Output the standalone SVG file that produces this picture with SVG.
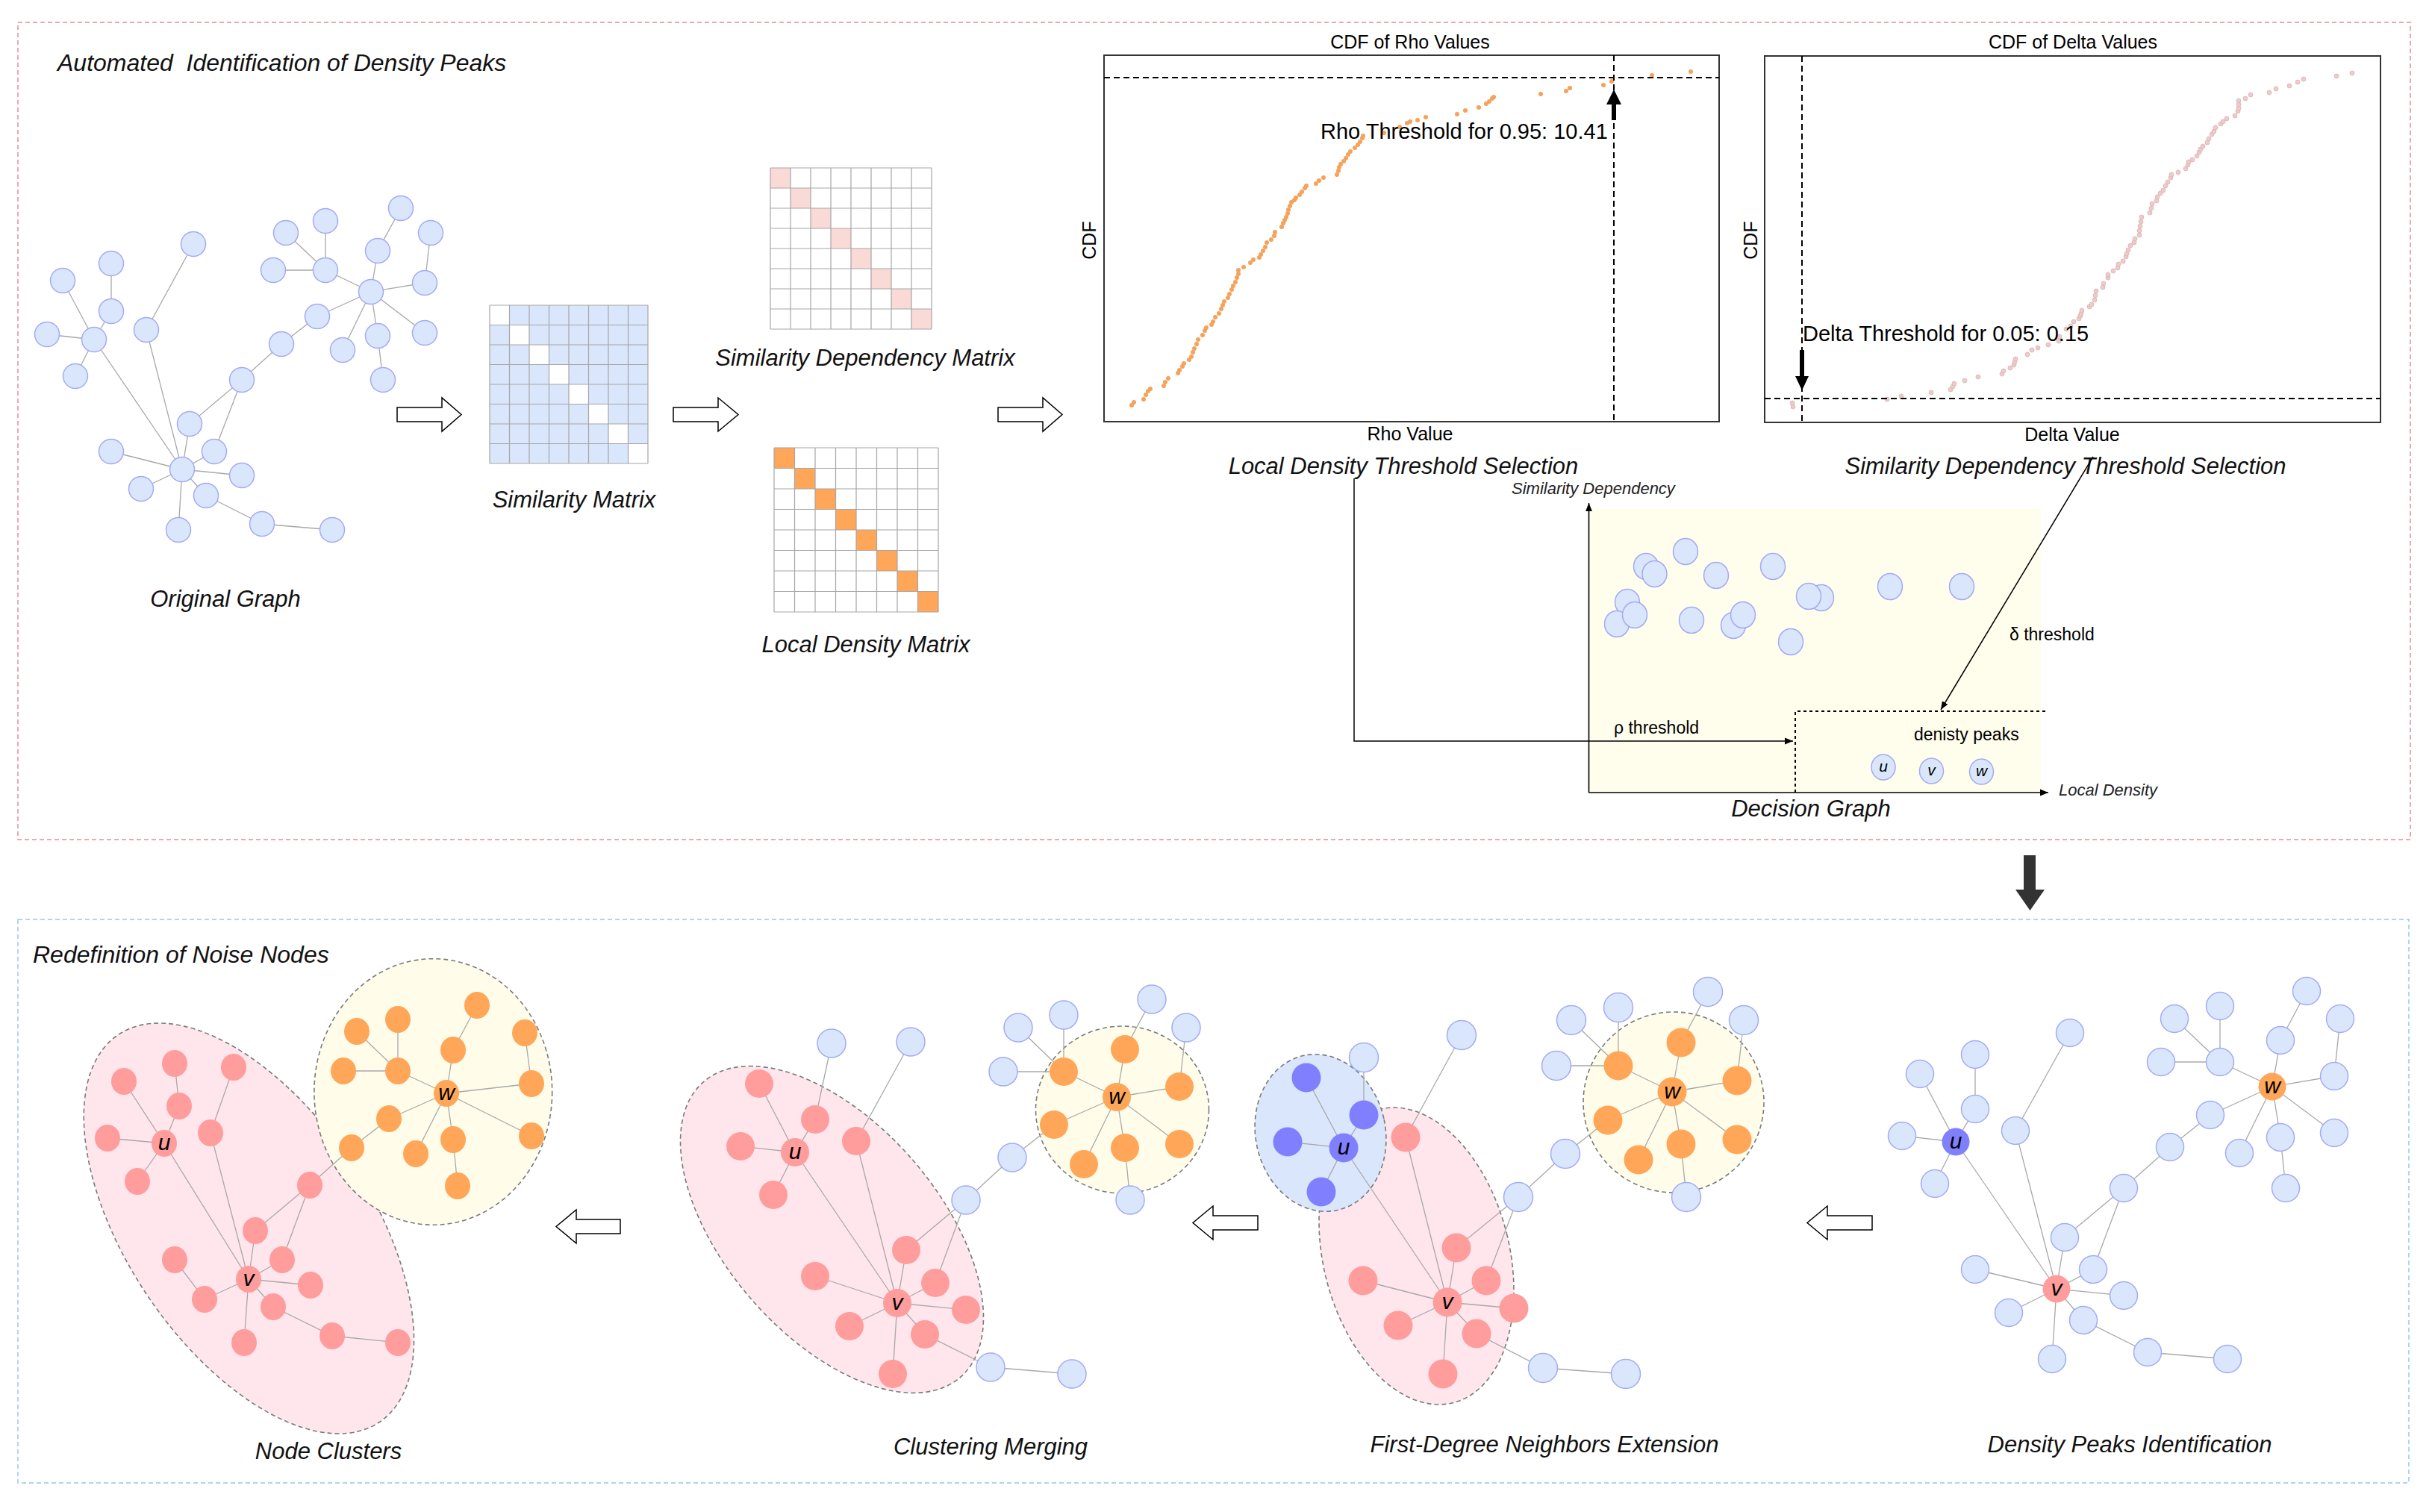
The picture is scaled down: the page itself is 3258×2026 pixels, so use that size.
<svg xmlns="http://www.w3.org/2000/svg" width="3258" height="2026" viewBox="0 0 3258 2026">
<defs>
<style>
text{font-family:'Liberation Sans',Arial,Helvetica,sans-serif;fill:#111}
.cap{font-style:italic;font-size:31px;text-anchor:middle}
.ttl{font-style:italic;font-size:32px}
.ch{font-size:25px;fill:#000}
.ann{font-size:29px;fill:#000}
.dg{font-size:23px;fill:#000}
.dgi{font-style:italic;font-size:22px;fill:#222}
.hl{font-style:italic;font-size:30px;text-anchor:middle;fill:#000}
.hs{font-style:italic;font-size:21px;text-anchor:middle;fill:#000}
.e line{stroke:#A8A8A8;stroke-width:1.3}
.nb{fill:#DAE6FC;stroke:#A3ABF4;stroke-width:1.5}
.nd{fill:#8080FF}
.np{fill:#FF9C9C}
.no{fill:#FFA658}
.hull{stroke:#7A7A7A;stroke-width:1.6;stroke-dasharray:6 4}
.grid{stroke:#A6A6A6;stroke-width:1.2;fill:none}
.harrow{fill:#fff;stroke:#000;stroke-width:1.5}
.dash{stroke:#000;stroke-width:2;stroke-dasharray:8 5;fill:none}
.rd{fill:#F5A25A}
.dd{fill:#EBCBCB;stroke:#DDB3B3;stroke-width:0.8}
</style>
<marker id="ah" viewBox="0 0 10 10" refX="10" refY="5" markerWidth="11" markerHeight="11" markerUnits="userSpaceOnUse" orient="auto"><path d="M0,1 L10,5 L0,9 z" fill="#000"/></marker>
</defs>
<rect width="3258" height="2026" fill="#fff"/>

<!-- section frames -->
<rect x="24" y="30" width="3205" height="1095" fill="none" stroke="#E88A9A" stroke-width="1.5" stroke-dasharray="6 4"/>
<rect x="24" y="1232" width="3203" height="755" fill="none" stroke="#9CC3F0" stroke-width="1.5" stroke-dasharray="6 4"/>
<text class="ttl" x="77" y="95" xml:space="preserve">Automated  Identification of Density Peaks</text>
<text class="ttl" x="44" y="1290">Redefinition of Noise Nodes</text>

<!-- ===== connectors ===== -->
<g id="connectors">
<g id="edges-original" class="e">
<line x1="259" y1="327" x2="196" y2="442"/><line x1="149" y1="353" x2="149" y2="417"/><line x1="84" y1="376" x2="126" y2="455"/><line x1="149" y1="417" x2="126" y2="455"/><line x1="63" y1="448" x2="126" y2="455"/><line x1="101" y1="504" x2="126" y2="455"/><line x1="126" y1="455" x2="244" y2="629"/><line x1="196" y1="442" x2="244" y2="629"/><line x1="383" y1="312" x2="436" y2="362"/><line x1="436" y1="296" x2="436" y2="362"/><line x1="366" y1="362" x2="436" y2="362"/><line x1="537" y1="279" x2="506" y2="336"/><line x1="506" y1="336" x2="497" y2="391"/><line x1="436" y1="362" x2="497" y2="391"/><line x1="497" y1="391" x2="569" y2="379"/><line x1="569" y1="379" x2="577" y2="312"/><line x1="497" y1="391" x2="569" y2="446"/><line x1="497" y1="391" x2="506" y2="450"/><line x1="506" y1="450" x2="513" y2="509"/><line x1="497" y1="391" x2="459" y2="469"/><line x1="497" y1="391" x2="425" y2="424"/><line x1="425" y1="424" x2="377" y2="461"/><line x1="377" y1="461" x2="324" y2="509"/><line x1="324" y1="509" x2="254" y2="568"/><line x1="324" y1="509" x2="287" y2="605"/><line x1="254" y1="568" x2="244" y2="629"/><line x1="287" y1="605" x2="244" y2="629"/><line x1="149" y1="605" x2="244" y2="629"/><line x1="324" y1="637" x2="244" y2="629"/><line x1="189" y1="655" x2="244" y2="629"/><line x1="276" y1="664" x2="244" y2="629"/><line x1="239" y1="710" x2="244" y2="629"/><line x1="276" y1="664" x2="351" y2="702"/><line x1="351" y1="702" x2="445" y2="710"/>
</g>
<g id="flow-arrows">
<path class="harrow" d="M532,546 H592 V533 L618,555.5 L592,578 V565 H532 Z"/>
<path class="harrow" d="M902,546 H962 V533 L989,555.5 L962,578 V565 H902 Z"/>
<path class="harrow" d="M1337,546 H1397 V533 L1423,555.5 L1397,578 V565 H1337 Z"/>
<path d="M2711,1146 H2727 V1192 H2739 L2719.5,1220 L2700,1192 H2711 Z" fill="#333"/>
<path class="harrow" d="M2508,1629 H2448 V1616 L2421,1638.5 L2448,1661 V1648 H2508 Z"/>
<path class="harrow" d="M1685,1629 H1625 V1616 L1598,1638.5 L1625,1661 V1648 H1685 Z"/>
<path class="harrow" d="M831,1634 H772 V1621 L745,1643.5 L772,1666 V1653 H831 Z"/>
</g>
<g id="edges-dp" class="e">
<line x1="2773" y1="1384" x2="2700" y2="1515"/><line x1="2646" y1="1413" x2="2646" y2="1486"/><line x1="2572" y1="1439" x2="2620" y2="1530"/><line x1="2646" y1="1486" x2="2620" y2="1530"/><line x1="2548" y1="1522" x2="2620" y2="1530"/><line x1="2592" y1="1586" x2="2620" y2="1530"/><line x1="2620" y1="1530" x2="2755" y2="1727"/><line x1="2700" y1="1515" x2="2755" y2="1727"/><line x1="2913" y1="1365" x2="2974" y2="1423"/><line x1="2974" y1="1348" x2="2974" y2="1423"/><line x1="2895" y1="1423" x2="2974" y2="1423"/><line x1="3090" y1="1328" x2="3055" y2="1394"/><line x1="3055" y1="1394" x2="3044" y2="1456"/><line x1="2974" y1="1423" x2="3044" y2="1456"/><line x1="3044" y1="1456" x2="3127" y2="1442"/><line x1="3127" y1="1442" x2="3135" y2="1365"/><line x1="3044" y1="1456" x2="3127" y2="1518"/><line x1="3044" y1="1456" x2="3055" y2="1524"/><line x1="3055" y1="1524" x2="3062" y2="1592"/><line x1="3044" y1="1456" x2="3000" y2="1545"/><line x1="3044" y1="1456" x2="2961" y2="1494"/><line x1="2961" y1="1494" x2="2907" y2="1537"/><line x1="2907" y1="1537" x2="2845" y2="1592"/><line x1="2845" y1="1592" x2="2766" y2="1658"/><line x1="2845" y1="1592" x2="2804" y2="1701"/><line x1="2766" y1="1658" x2="2755" y2="1727"/><line x1="2804" y1="1701" x2="2755" y2="1727"/><line x1="2646" y1="1701" x2="2755" y2="1727"/><line x1="2845" y1="1736" x2="2755" y2="1727"/><line x1="2691" y1="1759" x2="2755" y2="1727"/><line x1="2791" y1="1769" x2="2755" y2="1727"/><line x1="2749" y1="1821" x2="2755" y2="1727"/><line x1="2791" y1="1769" x2="2877" y2="1812"/><line x1="2877" y1="1812" x2="2984" y2="1821"/>
</g>
</g>

<!-- ===== Original graph nodes ===== -->
<g id="original-graph" class="nb">
<circle id="o-a1" cx="259" cy="327" r="16.5"/><circle id="o-a2" cx="149" cy="353" r="16.5"/><circle id="o-a3" cx="84" cy="376" r="16.5"/><circle id="o-a4" cx="149" cy="417" r="16.5"/><circle id="o-a5" cx="196" cy="442" r="16.5"/><circle id="o-a6" cx="63" cy="448" r="16.5"/><circle id="o-u" cx="126" cy="455" r="16.5"/><circle id="o-a8" cx="101" cy="504" r="16.5"/>
<circle id="o-b9" cx="383" cy="312" r="16.5"/><circle id="o-b10" cx="436" cy="296" r="16.5"/><circle id="o-b11" cx="537" cy="279" r="16.5"/><circle id="o-b12" cx="577" cy="312" r="16.5"/><circle id="o-b13" cx="506" cy="336" r="16.5"/><circle id="o-b14" cx="366" cy="362" r="16.5"/><circle id="o-b15" cx="436" cy="362" r="16.5"/><circle id="o-w" cx="497" cy="391" r="16.5"/><circle id="o-b17" cx="569" cy="379" r="16.5"/><circle id="o-b18" cx="425" cy="424" r="16.5"/><circle id="o-b19" cx="569" cy="446" r="16.5"/><circle id="o-b20" cx="459" cy="469" r="16.5"/><circle id="o-b21" cx="506" cy="450" r="16.5"/><circle id="o-b22" cx="513" cy="509" r="16.5"/><circle id="o-b23" cx="377" cy="461" r="16.5"/><circle id="o-b24" cx="324" cy="509" r="16.5"/><circle id="o-b25" cx="254" cy="568" r="16.5"/><circle id="o-b26" cx="287" cy="605" r="16.5"/><circle id="o-b27" cx="149" cy="605" r="16.5"/><circle id="o-v" cx="244" cy="629" r="16.5"/><circle id="o-b29" cx="324" cy="637" r="16.5"/><circle id="o-b30" cx="189" cy="655" r="16.5"/><circle id="o-b31" cx="276" cy="664" r="16.5"/><circle id="o-b32" cx="239" cy="710" r="16.5"/><circle id="o-b33" cx="351" cy="702" r="16.5"/><circle id="o-b34" cx="445" cy="710" r="16.5"/>
</g>
<text class="cap" x="302" y="813">Original Graph</text>

<!-- ===== Matrices ===== -->
<g id="similarity-matrix">
<rect x="656" y="409" width="212" height="212" fill="#DAE6FC"/>
<g fill="#fff"><rect x="656" y="409" width="26.5" height="26.5"/><rect x="682.5" y="435.5" width="26.5" height="26.5"/><rect x="709" y="462" width="26.5" height="26.5"/><rect x="735.5" y="488.5" width="26.5" height="26.5"/><rect x="762" y="515" width="26.5" height="26.5"/><rect x="788.5" y="541.5" width="26.5" height="26.5"/><rect x="815" y="568" width="26.5" height="26.5"/><rect x="841.5" y="594.5" width="26.5" height="26.5"/></g>
<path class="grid" d="M656,409V621M682.5,409V621M709,409V621M735.5,409V621M762,409V621M788.5,409V621M815,409V621M841.5,409V621M868,409V621M656,409H868M656,435.5H868M656,462H868M656,488.5H868M656,515H868M656,541.5H868M656,568H868M656,594.5H868M656,621H868"/>
<text class="cap" x="769" y="680">Similarity Matrix</text>
</g>
<g id="similarity-dependency-matrix">
<rect x="1032" y="225" width="216" height="216" fill="#fff"/>
<g fill="#FADAD7"><rect x="1032" y="225" width="27" height="27"/><rect x="1059" y="252" width="27" height="27"/><rect x="1086" y="279" width="27" height="27"/><rect x="1113" y="306" width="27" height="27"/><rect x="1140" y="333" width="27" height="27"/><rect x="1167" y="360" width="27" height="27"/><rect x="1194" y="387" width="27" height="27"/><rect x="1221" y="414" width="27" height="27"/></g>
<path class="grid" d="M1032,225V441M1059,225V441M1086,225V441M1113,225V441M1140,225V441M1167,225V441M1194,225V441M1221,225V441M1248,225V441M1032,225H1248M1032,252H1248M1032,279H1248M1032,306H1248M1032,333H1248M1032,360H1248M1032,387H1248M1032,414H1248M1032,441H1248"/>
<text class="cap" x="1159" y="490">Similarity Dependency Matrix</text>
</g>
<g id="local-density-matrix">
<rect x="1037" y="600" width="220" height="220" fill="#fff"/>
<g fill="#FFA658"><rect x="1037" y="600" width="27.5" height="27.5"/><rect x="1064.5" y="627.5" width="27.5" height="27.5"/><rect x="1092" y="655" width="27.5" height="27.5"/><rect x="1119.5" y="682.5" width="27.5" height="27.5"/><rect x="1147" y="710" width="27.5" height="27.5"/><rect x="1174.5" y="737.5" width="27.5" height="27.5"/><rect x="1202" y="765" width="27.5" height="27.5"/><rect x="1229.5" y="792.5" width="27.5" height="27.5"/></g>
<path class="grid" d="M1037,600V820M1064.5,600V820M1092,600V820M1119.5,600V820M1147,600V820M1174.5,600V820M1202,600V820M1229.5,600V820M1257,600V820M1037,600H1257M1037,627.5H1257M1037,655H1257M1037,682.5H1257M1037,710H1257M1037,737.5H1257M1037,765H1257M1037,792.5H1257M1037,820H1257"/>
<text class="cap" x="1160" y="874">Local Density Matrix</text>
</g>

<!-- ===== CDF of Rho ===== -->
<g id="cdf-rho">
<text class="ch" x="1889" y="65" text-anchor="middle">CDF of Rho Values</text>
<rect x="1479" y="74" width="824" height="491" fill="#fff" stroke="#333" stroke-width="2"/>
<text class="ch" transform="translate(1468,322) rotate(-90)" text-anchor="middle">CDF</text>
<text class="ch" x="1889" y="590" text-anchor="middle">Rho Value</text>
<g class="rd">
<circle cx="1516" cy="543" r="3"/><circle cx="1519" cy="539" r="3"/><circle cx="1532" cy="535" r="3"/><circle cx="1535" cy="529" r="3"/><circle cx="1538" cy="524" r="3"/><circle cx="1541" cy="521" r="3"/><circle cx="1559" cy="517" r="3"/><circle cx="1561" cy="512" r="3"/><circle cx="1565" cy="507" r="3"/><circle cx="1578" cy="500" r="3"/><circle cx="1580" cy="496" r="3"/><circle cx="1584" cy="491" r="3"/><circle cx="1586" cy="487" r="3"/><circle cx="1593" cy="482" r="3"/><circle cx="1596" cy="478" r="3"/><circle cx="1598" cy="472" r="3"/><circle cx="1600" cy="467" r="3"/><circle cx="1603" cy="461" r="3"/><circle cx="1605" cy="455" r="3"/><circle cx="1611" cy="449" r="3"/><circle cx="1614" cy="443" r="3"/><circle cx="1616" cy="439" r="3"/><circle cx="1623" cy="435" r="3"/><circle cx="1625" cy="431" r="3"/><circle cx="1628" cy="425" r="3"/><circle cx="1633" cy="420" r="3"/><circle cx="1636" cy="414" r="3"/><circle cx="1638" cy="409" r="3"/><circle cx="1640" cy="404" r="3"/><circle cx="1645" cy="399" r="3"/><circle cx="1647" cy="394" r="3"/><circle cx="1650" cy="388" r="3"/><circle cx="1652" cy="383" r="3"/><circle cx="1655" cy="378" r="3"/><circle cx="1657" cy="372" r="3"/><circle cx="1659" cy="367" r="3"/><circle cx="1659" cy="362" r="3"/><circle cx="1666" cy="358" r="3"/><circle cx="1675" cy="352" r="3"/><circle cx="1679" cy="348" r="3"/><circle cx="1687" cy="345" r="3"/><circle cx="1689" cy="341" r="3"/><circle cx="1692" cy="336" r="3"/><circle cx="1695" cy="331" r="3"/><circle cx="1697" cy="325" r="3"/><circle cx="1703" cy="321" r="3"/><circle cx="1707" cy="316" r="3"/><circle cx="1708" cy="311" r="3"/><circle cx="1717" cy="304" r="3"/><circle cx="1719" cy="299" r="3"/><circle cx="1721" cy="295" r="3"/><circle cx="1723" cy="291" r="3"/><circle cx="1725" cy="286" r="3"/><circle cx="1726" cy="281" r="3"/><circle cx="1728" cy="276" r="3"/><circle cx="1730" cy="271" r="3"/><circle cx="1734" cy="268" r="3"/><circle cx="1736" cy="265" r="3"/><circle cx="1741" cy="261" r="3"/><circle cx="1744" cy="257" r="3"/><circle cx="1748" cy="252" r="3"/><circle cx="1750" cy="249" r="3"/><circle cx="1763" cy="246" r="3"/><circle cx="1767" cy="242" r="3"/><circle cx="1773" cy="238" r="3"/><circle cx="1791" cy="234" r="3"/><circle cx="1793" cy="229" r="3"/><circle cx="1794" cy="224" r="3"/><circle cx="1796" cy="220" r="3"/><circle cx="1800" cy="216" r="3"/><circle cx="1803" cy="212" r="3"/><circle cx="1806" cy="207" r="3"/><circle cx="1809" cy="203" r="3"/><circle cx="1815" cy="198" r="3"/><circle cx="1819" cy="194" r="3"/><circle cx="1822" cy="190" r="3"/><circle cx="1825" cy="185" r="3"/><circle cx="1826" cy="182" r="3"/><circle cx="1854" cy="178" r="3"/><circle cx="1875" cy="170" r="3"/><circle cx="1885" cy="165" r="3"/><circle cx="1889" cy="163" r="3"/><circle cx="1899" cy="161" r="3"/><circle cx="1910" cy="157" r="3"/><circle cx="1952" cy="153" r="3"/><circle cx="1963" cy="148" r="3"/><circle cx="1981" cy="144" r="3"/><circle cx="1991" cy="139" r="3"/><circle cx="1995" cy="136" r="3"/><circle cx="1999" cy="132" r="3"/><circle cx="2001" cy="130" r="3"/><circle cx="2064" cy="126" r="3"/><circle cx="2098" cy="122" r="3"/><circle cx="2103" cy="118" r="3"/><circle cx="2148" cy="114" r="3"/><circle cx="2159" cy="109" r="3"/><circle cx="2213" cy="101" r="3"/><circle cx="2265" cy="96" r="3"/>
</g>
<line class="dash" x1="1479" y1="104" x2="2303" y2="104"/>
<line class="dash" x1="2162" y1="74" x2="2162" y2="565"/>
<rect x="2159" y="137" width="6" height="24" fill="#000"/>
<polygon points="2152,140 2172,140 2162,120" fill="#000"/>
<text class="ann" x="1769" y="186">Rho Threshold for 0.95: 10.41</text>
<text class="cap" x="1880" y="635">Local Density Threshold Selection</text>
</g>

<!-- ===== CDF of Delta ===== -->
<g id="cdf-delta">
<text class="ch" x="2777" y="65" text-anchor="middle">CDF of Delta Values</text>
<rect x="2364" y="75" width="825" height="491" fill="#fff" stroke="#333" stroke-width="2"/>
<text class="ch" transform="translate(2354,322) rotate(-90)" text-anchor="middle">CDF</text>
<text class="ch" x="2776" y="591" text-anchor="middle">Delta Value</text>
<g class="dd">
<circle cx="2401" cy="540" r="3"/><circle cx="2402" cy="545" r="3"/><circle cx="2528" cy="535" r="3"/><circle cx="2547" cy="531" r="3"/><circle cx="2587" cy="526" r="3"/><circle cx="2613" cy="522" r="3"/><circle cx="2616" cy="518" r="3"/><circle cx="2618" cy="514" r="3"/><circle cx="2632" cy="510" r="3"/><circle cx="2650" cy="505" r="3"/><circle cx="2682" cy="501" r="3"/><circle cx="2684" cy="497" r="3"/><circle cx="2693" cy="493" r="3"/><circle cx="2698" cy="489" r="3"/><circle cx="2699" cy="485" r="3"/><circle cx="2700" cy="481" r="3"/><circle cx="2716" cy="475" r="3"/><circle cx="2722" cy="469" r="3"/><circle cx="2730" cy="466" r="3"/><circle cx="2744" cy="462" r="3"/><circle cx="2758" cy="457" r="3"/><circle cx="2759" cy="451" r="3"/><circle cx="2768" cy="441" r="3"/><circle cx="2774" cy="437" r="3"/><circle cx="2778" cy="431" r="3"/><circle cx="2785" cy="427" r="3"/><circle cx="2787" cy="423" r="3"/><circle cx="2788" cy="420" r="3"/><circle cx="2789" cy="416" r="3"/><circle cx="2799" cy="411" r="3"/><circle cx="2802" cy="408" r="3"/><circle cx="2806" cy="402" r="3"/><circle cx="2807" cy="396" r="3"/><circle cx="2808" cy="390" r="3"/><circle cx="2817" cy="385" r="3"/><circle cx="2818" cy="380" r="3"/><circle cx="2824" cy="372" r="3"/><circle cx="2824" cy="368" r="3"/><circle cx="2831" cy="363" r="3"/><circle cx="2837" cy="359" r="3"/><circle cx="2838" cy="354" r="3"/><circle cx="2844" cy="350" r="3"/><circle cx="2848" cy="344" r="3"/><circle cx="2849" cy="340" r="3"/><circle cx="2851" cy="335" r="3"/><circle cx="2854" cy="329" r="3"/><circle cx="2859" cy="325" r="3"/><circle cx="2860" cy="320" r="3"/><circle cx="2866" cy="315" r="3"/><circle cx="2866" cy="309" r="3"/><circle cx="2867" cy="303" r="3"/><circle cx="2868" cy="297" r="3"/><circle cx="2869" cy="291" r="3"/><circle cx="2880" cy="285" r="3"/><circle cx="2882" cy="279" r="3"/><circle cx="2883" cy="273" r="3"/><circle cx="2889" cy="269" r="3"/><circle cx="2890" cy="264" r="3"/><circle cx="2894" cy="259" r="3"/><circle cx="2898" cy="255" r="3"/><circle cx="2901" cy="249" r="3"/><circle cx="2904" cy="244" r="3"/><circle cx="2908" cy="238" r="3"/><circle cx="2909" cy="234" r="3"/><circle cx="2918" cy="231" r="3"/><circle cx="2928" cy="226" r="3"/><circle cx="2931" cy="221" r="3"/><circle cx="2932" cy="217" r="3"/><circle cx="2937" cy="214" r="3"/><circle cx="2943" cy="209" r="3"/><circle cx="2946" cy="204" r="3"/><circle cx="2948" cy="200" r="3"/><circle cx="2951" cy="196" r="3"/><circle cx="2957" cy="191" r="3"/><circle cx="2959" cy="186" r="3"/><circle cx="2963" cy="180" r="3"/><circle cx="2966" cy="176" r="3"/><circle cx="2968" cy="171" r="3"/><circle cx="2975" cy="166" r="3"/><circle cx="2978" cy="163" r="3"/><circle cx="2983" cy="159" r="3"/><circle cx="2994" cy="155" r="3"/><circle cx="2998" cy="149" r="3"/><circle cx="2999" cy="145" r="3"/><circle cx="2999" cy="140" r="3"/><circle cx="2999" cy="135" r="3"/><circle cx="3008" cy="132" r="3"/><circle cx="3015" cy="127" r="3"/><circle cx="3040" cy="124" r="3"/><circle cx="3049" cy="119" r="3"/><circle cx="3067" cy="115" r="3"/><circle cx="3078" cy="110" r="3"/><circle cx="3086" cy="106" r="3"/><circle cx="3130" cy="102" r="3"/><circle cx="3151" cy="98" r="3"/>
</g>
<line class="dash" x1="2364" y1="534" x2="3189" y2="534"/>
<line class="dash" x1="2414" y1="75" x2="2414" y2="566"/>
<rect x="2411" y="469" width="6" height="37" fill="#000"/>
<polygon points="2405,504 2423,504 2414,523" fill="#000"/>
<text class="ann" x="2415" y="457">Delta Threshold for 0.05: 0.15</text>
<text class="cap" x="2767" y="635">Similarity Dependency Threshold Selection</text>
</g>

<!-- ===== Decision graph ===== -->
<g id="decision-graph">
<rect x="2129" y="682" width="605" height="380" fill="#FFFDEC"/>
<line x1="2128.5" y1="1062" x2="2128.5" y2="674" stroke="#000" stroke-width="1.6" marker-end="url(#ah)"/>
<line x1="2128.5" y1="1062" x2="2744" y2="1062" stroke="#000" stroke-width="1.6" marker-end="url(#ah)"/>
<path d="M2405,1062 V953 H2740" fill="none" stroke="#000" stroke-width="2" stroke-dasharray="4 4"/>
<text class="dgi" x="2025" y="662">Similarity Dependency</text>
<text class="dgi" x="2758" y="1066">Local Density</text>
<text class="dg" x="2692" y="858">δ threshold</text>
<text class="dg" x="2162" y="983">ρ threshold</text>
<text class="dg" x="2564" y="992">denisty peaks</text>
<g class="nb">
<ellipse cx="2205" cy="759" rx="16.5" ry="17.5"/><ellipse cx="2216.5" cy="769" rx="16.5" ry="17.5"/><ellipse cx="2258" cy="739" rx="16.5" ry="17.5"/><ellipse cx="2299" cy="771" rx="16.5" ry="17.5"/><ellipse cx="2375" cy="759" rx="16.5" ry="17.5"/><ellipse cx="2180" cy="807" rx="16.5" ry="17.5"/><ellipse cx="2166" cy="836" rx="16.5" ry="17.5"/><ellipse cx="2190" cy="824" rx="16.5" ry="17.5"/><ellipse cx="2266" cy="831" rx="16.5" ry="17.5"/><ellipse cx="2322" cy="838" rx="16.5" ry="17.5"/><ellipse cx="2335" cy="824" rx="16.5" ry="17.5"/><ellipse cx="2440" cy="801" rx="16.5" ry="17.5"/><ellipse cx="2423" cy="799" rx="16.5" ry="17.5"/><ellipse cx="2532" cy="786" rx="16.5" ry="17.5"/><ellipse cx="2628" cy="786" rx="16.5" ry="17.5"/><ellipse cx="2399" cy="860" rx="16.5" ry="17.5"/>
</g>
<g id="dg-u"><ellipse class="nb" cx="2523" cy="1028" rx="16" ry="17"/><text class="hs" x="2523" y="1034">u</text></g>
<g id="dg-v"><ellipse class="nb" cx="2587.5" cy="1033" rx="16" ry="17"/><text class="hs" x="2587.5" y="1039">v</text></g>
<g id="dg-w"><ellipse class="nb" cx="2654.5" cy="1034" rx="16" ry="17"/><text class="hs" x="2654.5" y="1040">w</text></g>
<text class="cap" x="2426" y="1094">Decision Graph</text>
</g>
<g id="threshold-links" fill="none" stroke="#000" stroke-width="1.5">
<polyline points="1814,641 1814,993 2402,993" marker-end="url(#ah)"/>
<line x1="2804" y1="612" x2="2600" y2="951" marker-end="url(#ah)"/>
</g>

<!-- ===== Density Peaks Identification ===== -->
<g id="density-peaks-identification">
<g class="nb">
<circle id="dp-a1" cx="2773" cy="1384" r="18.5"/><circle id="dp-a2" cx="2646" cy="1413" r="18.5"/><circle id="dp-a3" cx="2572" cy="1439" r="18.5"/><circle id="dp-a4" cx="2646" cy="1486" r="18.5"/><circle id="dp-a5" cx="2700" cy="1515" r="18.5"/><circle id="dp-a6" cx="2548" cy="1522" r="18.5"/><circle id="dp-a8" cx="2592" cy="1586" r="18.5"/>
<circle id="dp-b9" cx="2913" cy="1365" r="18.5"/><circle id="dp-b10" cx="2974" cy="1348" r="18.5"/><circle id="dp-b11" cx="3090" cy="1328" r="18.5"/><circle id="dp-b12" cx="3135" cy="1365" r="18.5"/><circle id="dp-b13" cx="3055" cy="1394" r="18.5"/><circle id="dp-b14" cx="2895" cy="1423" r="18.5"/><circle id="dp-b15" cx="2974" cy="1423" r="18.5"/><circle id="dp-b17" cx="3127" cy="1442" r="18.5"/><circle id="dp-b18" cx="2961" cy="1494" r="18.5"/><circle id="dp-b19" cx="3127" cy="1518" r="18.5"/><circle id="dp-b20" cx="3000" cy="1545" r="18.5"/><circle id="dp-b21" cx="3055" cy="1524" r="18.5"/><circle id="dp-b22" cx="3062" cy="1592" r="18.5"/><circle id="dp-b23" cx="2907" cy="1537" r="18.5"/><circle id="dp-b24" cx="2845" cy="1592" r="18.5"/><circle id="dp-b25" cx="2766" cy="1658" r="18.5"/><circle id="dp-b26" cx="2804" cy="1701" r="18.5"/><circle id="dp-b27" cx="2646" cy="1701" r="18.5"/><circle id="dp-b29" cx="2845" cy="1736" r="18.5"/><circle id="dp-b30" cx="2691" cy="1759" r="18.5"/><circle id="dp-b31" cx="2791" cy="1769" r="18.5"/><circle id="dp-b32" cx="2749" cy="1821" r="18.5"/><circle id="dp-b33" cx="2877" cy="1812" r="18.5"/><circle id="dp-b34" cx="2984" cy="1821" r="18.5"/>
</g>
<g id="dp-u"><circle class="nd" cx="2620" cy="1530" r="18.5"/><text class="hl" x="2620" y="1539">u</text></g>
<g id="dp-w"><circle class="no" cx="3044" cy="1456" r="18.5"/><text class="hl" x="3044" y="1465">w</text></g>
<g id="dp-v"><circle class="np" cx="2755" cy="1727" r="18.5"/><text class="hl" x="2755" y="1736">v</text></g>
<text class="cap" x="2853" y="1946">Density Peaks Identification</text>
</g>

<!-- ===== First-Degree Neighbors Extension ===== -->
<g id="first-degree-neighbors-extension">
<ellipse class="hull" cx="1897.5" cy="1683" rx="124.6" ry="202.7" transform="rotate(-14 1897.5 1683)" fill="#FFE6EC"/>
<ellipse class="hull" cx="1769" cy="1518" rx="87" ry="106" transform="rotate(-12 1769 1518)" fill="#DAE6FB"/>
<ellipse class="hull" cx="2242" cy="1477" rx="121" ry="121" fill="#FFFDEA"/>
<g class="e">
<line x1="1958" y1="1387" x2="1883" y2="1524"/><line x1="1827" y1="1417" x2="1827" y2="1494"/><line x1="1750" y1="1444" x2="1800" y2="1538"/><line x1="1827" y1="1494" x2="1800" y2="1538"/><line x1="1725" y1="1530" x2="1800" y2="1538"/><line x1="1770" y1="1597" x2="1800" y2="1538"/><line x1="1800" y1="1538" x2="1939" y2="1745"/><line x1="1883" y1="1524" x2="1939" y2="1745"/><line x1="2105" y1="1367" x2="2168" y2="1428"/><line x1="2168" y1="1350" x2="2168" y2="1428"/><line x1="2085" y1="1428" x2="2168" y2="1428"/><line x1="2288" y1="1329" x2="2252" y2="1397"/><line x1="2252" y1="1397" x2="2240" y2="1463"/><line x1="2168" y1="1428" x2="2240" y2="1463"/><line x1="2240" y1="1463" x2="2327" y2="1448"/><line x1="2327" y1="1448" x2="2336" y2="1367"/><line x1="2240" y1="1463" x2="2327" y2="1527"/><line x1="2240" y1="1463" x2="2252" y2="1533"/><line x1="2252" y1="1533" x2="2259" y2="1604"/><line x1="2240" y1="1463" x2="2195" y2="1554"/><line x1="2240" y1="1463" x2="2154" y2="1501"/><line x1="2154" y1="1501" x2="2097" y2="1546"/><line x1="2097" y1="1546" x2="2034" y2="1604"/><line x1="2034" y1="1604" x2="1951" y2="1672"/><line x1="2034" y1="1604" x2="1991" y2="1716"/><line x1="1951" y1="1672" x2="1939" y2="1745"/><line x1="1991" y1="1716" x2="1939" y2="1745"/><line x1="1826" y1="1716" x2="1939" y2="1745"/><line x1="2028" y1="1753" x2="1939" y2="1745"/><line x1="1873" y1="1776" x2="1939" y2="1745"/><line x1="1978" y1="1787" x2="1939" y2="1745"/><line x1="1933" y1="1841" x2="1939" y2="1745"/><line x1="1978" y1="1787" x2="2067" y2="1833"/><line x1="2067" y1="1833" x2="2178" y2="1841"/>
</g>
<g class="nb"><circle id="fd-a1" cx="1958" cy="1387" r="19.5"/><circle id="fd-a2" cx="1827" cy="1417" r="19.5"/><circle id="fd-b9" cx="2105" cy="1367" r="19.5"/><circle id="fd-b10" cx="2168" cy="1350" r="19.5"/><circle id="fd-b11" cx="2288" cy="1329" r="19.5"/><circle id="fd-b12" cx="2336" cy="1367" r="19.5"/><circle id="fd-b14" cx="2085" cy="1428" r="19.5"/><circle id="fd-b22" cx="2259" cy="1604" r="19.5"/><circle id="fd-b23" cx="2097" cy="1546" r="19.5"/><circle id="fd-b24" cx="2034" cy="1604" r="19.5"/><circle id="fd-b33" cx="2067" cy="1833" r="19.5"/><circle id="fd-b34" cx="2178" cy="1841" r="19.5"/></g>
<g class="nd"><circle id="fd-a3" cx="1750" cy="1444" r="19.5"/><circle id="fd-a4" cx="1827" cy="1494" r="19.5"/><circle id="fd-a6" cx="1725" cy="1530" r="19.5"/><circle id="fd-a8" cx="1770" cy="1597" r="19.5"/></g>
<g class="np"><circle id="fd-a5" cx="1883" cy="1524" r="19.5"/><circle id="fd-b25" cx="1951" cy="1672" r="19.5"/><circle id="fd-b26" cx="1991" cy="1716" r="19.5"/><circle id="fd-b27" cx="1826" cy="1716" r="19.5"/><circle id="fd-b29" cx="2028" cy="1753" r="19.5"/><circle id="fd-b30" cx="1873" cy="1776" r="19.5"/><circle id="fd-b31" cx="1978" cy="1787" r="19.5"/><circle id="fd-b32" cx="1933" cy="1841" r="19.5"/></g>
<g class="no"><circle id="fd-b13" cx="2252" cy="1397" r="19.5"/><circle id="fd-b15" cx="2168" cy="1428" r="19.5"/><circle id="fd-b17" cx="2327" cy="1448" r="19.5"/><circle id="fd-b18" cx="2154" cy="1501" r="19.5"/><circle id="fd-b19" cx="2327" cy="1527" r="19.5"/><circle id="fd-b20" cx="2195" cy="1554" r="19.5"/><circle id="fd-b21" cx="2252" cy="1533" r="19.5"/></g>
<g id="fd-u"><circle class="nd" cx="1800" cy="1538" r="19.5"/><text class="hl" x="1800" y="1547">u</text></g>
<g id="fd-w"><circle class="no" cx="2240" cy="1463" r="19.5"/><text class="hl" x="2240" y="1472">w</text></g>
<g id="fd-v"><circle class="np" cx="1939" cy="1745" r="19.5"/><text class="hl" x="1939" y="1754">v</text></g>
<text class="cap" x="2069" y="1946">First-Degree Neighbors Extension</text>
</g>

<!-- ===== Clustering Merging ===== -->
<g id="clustering-merging">
<ellipse class="hull" cx="1114.5" cy="1647.5" rx="142.8" ry="262.2" transform="rotate(-41 1114.5 1647.5)" fill="#FFE6EC"/>
<ellipse class="hull" cx="1503.5" cy="1487" rx="116" ry="112" fill="#FFFDEA"/>
<g class="e">
<line x1="1220" y1="1396" x2="1147" y2="1529"/><line x1="1114" y1="1398" x2="1092" y2="1500"/><line x1="1017" y1="1452" x2="1065" y2="1544"/><line x1="1092" y1="1500" x2="1065" y2="1544"/><line x1="992" y1="1536" x2="1065" y2="1544"/><line x1="1036" y1="1601" x2="1065" y2="1544"/><line x1="1065" y1="1544" x2="1202" y2="1746"/><line x1="1147" y1="1529" x2="1202" y2="1746"/><line x1="1364" y1="1377" x2="1425" y2="1436"/><line x1="1425" y1="1360" x2="1425" y2="1436"/><line x1="1344" y1="1436" x2="1425" y2="1436"/><line x1="1543" y1="1339" x2="1507" y2="1406"/><line x1="1507" y1="1406" x2="1496" y2="1470"/><line x1="1425" y1="1436" x2="1496" y2="1470"/><line x1="1496" y1="1470" x2="1580" y2="1456"/><line x1="1580" y1="1456" x2="1589" y2="1377"/><line x1="1496" y1="1470" x2="1580" y2="1533"/><line x1="1496" y1="1470" x2="1507" y2="1538"/><line x1="1507" y1="1538" x2="1514" y2="1608"/><line x1="1496" y1="1470" x2="1452" y2="1560"/><line x1="1496" y1="1470" x2="1412" y2="1507"/><line x1="1412" y1="1507" x2="1356" y2="1551"/><line x1="1356" y1="1551" x2="1294" y2="1608"/><line x1="1294" y1="1608" x2="1214" y2="1675"/><line x1="1294" y1="1608" x2="1253" y2="1719"/><line x1="1214" y1="1675" x2="1202" y2="1746"/><line x1="1253" y1="1719" x2="1202" y2="1746"/><line x1="1092" y1="1710" x2="1202" y2="1746"/><line x1="1294" y1="1755" x2="1202" y2="1746"/><line x1="1138" y1="1777" x2="1202" y2="1746"/><line x1="1239" y1="1788" x2="1202" y2="1746"/><line x1="1196" y1="1841" x2="1202" y2="1746"/><line x1="1239" y1="1788" x2="1327" y2="1832"/><line x1="1327" y1="1832" x2="1436" y2="1841"/>
</g>
<g class="nb"><circle id="cm-a1" cx="1220" cy="1396" r="19"/><circle id="cm-a2" cx="1114" cy="1398" r="19"/><circle id="cm-b9" cx="1364" cy="1377" r="19"/><circle id="cm-b10" cx="1425" cy="1360" r="19"/><circle id="cm-b11" cx="1543" cy="1339" r="19"/><circle id="cm-b12" cx="1589" cy="1377" r="19"/><circle id="cm-b14" cx="1344" cy="1436" r="19"/><circle id="cm-b22" cx="1514" cy="1608" r="19"/><circle id="cm-b23" cx="1356" cy="1551" r="19"/><circle id="cm-b24" cx="1294" cy="1608" r="19"/><circle id="cm-b33" cx="1327" cy="1832" r="19"/><circle id="cm-b34" cx="1436" cy="1841" r="19"/></g>
<g class="np"><circle id="cm-a3" cx="1017" cy="1452" r="19"/><circle id="cm-a4" cx="1092" cy="1500" r="19"/><circle id="cm-a5" cx="1147" cy="1529" r="19"/><circle id="cm-a6" cx="992" cy="1536" r="19"/><circle id="cm-a8" cx="1036" cy="1601" r="19"/><circle id="cm-b25" cx="1214" cy="1675" r="19"/><circle id="cm-b26" cx="1253" cy="1719" r="19"/><circle id="cm-b27" cx="1092" cy="1710" r="19"/><circle id="cm-b29" cx="1294" cy="1755" r="19"/><circle id="cm-b30" cx="1138" cy="1777" r="19"/><circle id="cm-b31" cx="1239" cy="1788" r="19"/><circle id="cm-b32" cx="1196" cy="1841" r="19"/></g>
<g class="no"><circle id="cm-b13" cx="1507" cy="1406" r="19"/><circle id="cm-b15" cx="1425" cy="1436" r="19"/><circle id="cm-b17" cx="1580" cy="1456" r="19"/><circle id="cm-b18" cx="1412" cy="1507" r="19"/><circle id="cm-b19" cx="1580" cy="1533" r="19"/><circle id="cm-b20" cx="1452" cy="1560" r="19"/><circle id="cm-b21" cx="1507" cy="1538" r="19"/></g>
<g id="cm-u"><circle class="np" cx="1065" cy="1544" r="19"/><text class="hl" x="1065" y="1553">u</text></g>
<g id="cm-w"><circle class="no" cx="1496" cy="1470" r="19"/><text class="hl" x="1496" y="1479">w</text></g>
<g id="cm-v"><circle class="np" cx="1202" cy="1746" r="19"/><text class="hl" x="1202" y="1755">v</text></g>
<text class="cap" x="1327" y="1949">Clustering Merging</text>
</g>

<!-- ===== Node Clusters ===== -->
<g id="node-clusters">
<ellipse class="hull" cx="333.4" cy="1646" rx="163" ry="313" transform="rotate(-34 333.4 1646)" fill="#FFE6EC"/>
<ellipse class="hull" cx="580.3" cy="1463" rx="159.4" ry="178.3" fill="#FFFDEA"/>
<g class="e">
<line x1="313" y1="1430" x2="282" y2="1518"/><line x1="234" y1="1425" x2="240" y2="1482"/><line x1="166" y1="1449" x2="220" y2="1532"/><line x1="240" y1="1482" x2="220" y2="1532"/><line x1="144" y1="1525" x2="220" y2="1532"/><line x1="184" y1="1583" x2="220" y2="1532"/><line x1="220" y1="1532" x2="333" y2="1714"/><line x1="282" y1="1518" x2="333" y2="1714"/><line x1="478" y1="1382" x2="533" y2="1435"/><line x1="533" y1="1366" x2="533" y2="1435"/><line x1="460" y1="1435" x2="533" y2="1435"/><line x1="639" y1="1347" x2="607" y2="1407"/><line x1="607" y1="1407" x2="598" y2="1465"/><line x1="533" y1="1435" x2="598" y2="1465"/><line x1="598" y1="1465" x2="712" y2="1452"/><line x1="712" y1="1452" x2="703" y2="1384"/><line x1="598" y1="1465" x2="712" y2="1522"/><line x1="598" y1="1465" x2="607" y2="1527"/><line x1="607" y1="1527" x2="613" y2="1589"/><line x1="598" y1="1465" x2="557" y2="1546"/><line x1="598" y1="1465" x2="521" y2="1499"/><line x1="521" y1="1499" x2="471" y2="1538"/><line x1="471" y1="1538" x2="415" y2="1588"/><line x1="415" y1="1588" x2="342" y2="1649"/><line x1="415" y1="1588" x2="378" y2="1688"/><line x1="342" y1="1649" x2="333" y2="1714"/><line x1="378" y1="1688" x2="333" y2="1714"/><line x1="234" y1="1688" x2="274" y2="1741"/><line x1="416" y1="1722" x2="333" y2="1714"/><line x1="274" y1="1741" x2="333" y2="1714"/><line x1="366" y1="1751" x2="333" y2="1714"/><line x1="327" y1="1799" x2="333" y2="1714"/><line x1="366" y1="1751" x2="445" y2="1790"/><line x1="445" y1="1790" x2="533" y2="1799"/>
</g>
<g class="np"><ellipse id="nc-a1" cx="313" cy="1430" rx="17" ry="18"/><ellipse id="nc-a2" cx="234" cy="1425" rx="17" ry="18"/><ellipse id="nc-a3" cx="166" cy="1449" rx="17" ry="18"/><ellipse id="nc-a4" cx="240" cy="1482" rx="17" ry="18"/><ellipse id="nc-a5" cx="282" cy="1518" rx="17" ry="18"/><ellipse id="nc-a6" cx="144" cy="1525" rx="17" ry="18"/><ellipse id="nc-a8" cx="184" cy="1583" rx="17" ry="18"/><ellipse id="nc-b24" cx="415" cy="1588" rx="17" ry="18"/><ellipse id="nc-b25" cx="342" cy="1649" rx="17" ry="18"/><ellipse id="nc-b26" cx="378" cy="1688" rx="17" ry="18"/><ellipse id="nc-b27" cx="234" cy="1688" rx="17" ry="18"/><ellipse id="nc-b29" cx="416" cy="1722" rx="17" ry="18"/><ellipse id="nc-b30" cx="274" cy="1741" rx="17" ry="18"/><ellipse id="nc-b31" cx="366" cy="1751" rx="17" ry="18"/><ellipse id="nc-b32" cx="327" cy="1799" rx="17" ry="18"/><ellipse id="nc-b33" cx="445" cy="1790" rx="17" ry="18"/><ellipse id="nc-b34" cx="533" cy="1799" rx="17" ry="18"/></g>
<g class="no"><ellipse id="nc-b9" cx="478" cy="1382" rx="17" ry="18"/><ellipse id="nc-b10" cx="533" cy="1366" rx="17" ry="18"/><ellipse id="nc-b11" cx="639" cy="1347" rx="17" ry="18"/><ellipse id="nc-b12" cx="703" cy="1384" rx="17" ry="18"/><ellipse id="nc-b13" cx="607" cy="1407" rx="17" ry="18"/><ellipse id="nc-b14" cx="460" cy="1435" rx="17" ry="18"/><ellipse id="nc-b15" cx="533" cy="1435" rx="17" ry="18"/><ellipse id="nc-b17" cx="712" cy="1452" rx="17" ry="18"/><ellipse id="nc-b18" cx="521" cy="1499" rx="17" ry="18"/><ellipse id="nc-b19" cx="712" cy="1522" rx="17" ry="18"/><ellipse id="nc-b20" cx="557" cy="1546" rx="17" ry="18"/><ellipse id="nc-b21" cx="607" cy="1527" rx="17" ry="18"/><ellipse id="nc-b22" cx="613" cy="1589" rx="17" ry="18"/><ellipse id="nc-b23" cx="471" cy="1538" rx="17" ry="18"/></g>
<g id="nc-u"><ellipse class="np" cx="220" cy="1532" rx="17" ry="18"/><text class="hl" x="220" y="1541">u</text></g>
<g id="nc-w"><ellipse class="no" cx="598" cy="1465" rx="17" ry="18"/><text class="hl" x="598" y="1474">w</text></g>
<g id="nc-v"><ellipse class="np" cx="333" cy="1714" rx="17" ry="18"/><text class="hl" x="333" y="1723">v</text></g>
<text class="cap" x="440" y="1955">Node Clusters</text>
</g>
</svg>
